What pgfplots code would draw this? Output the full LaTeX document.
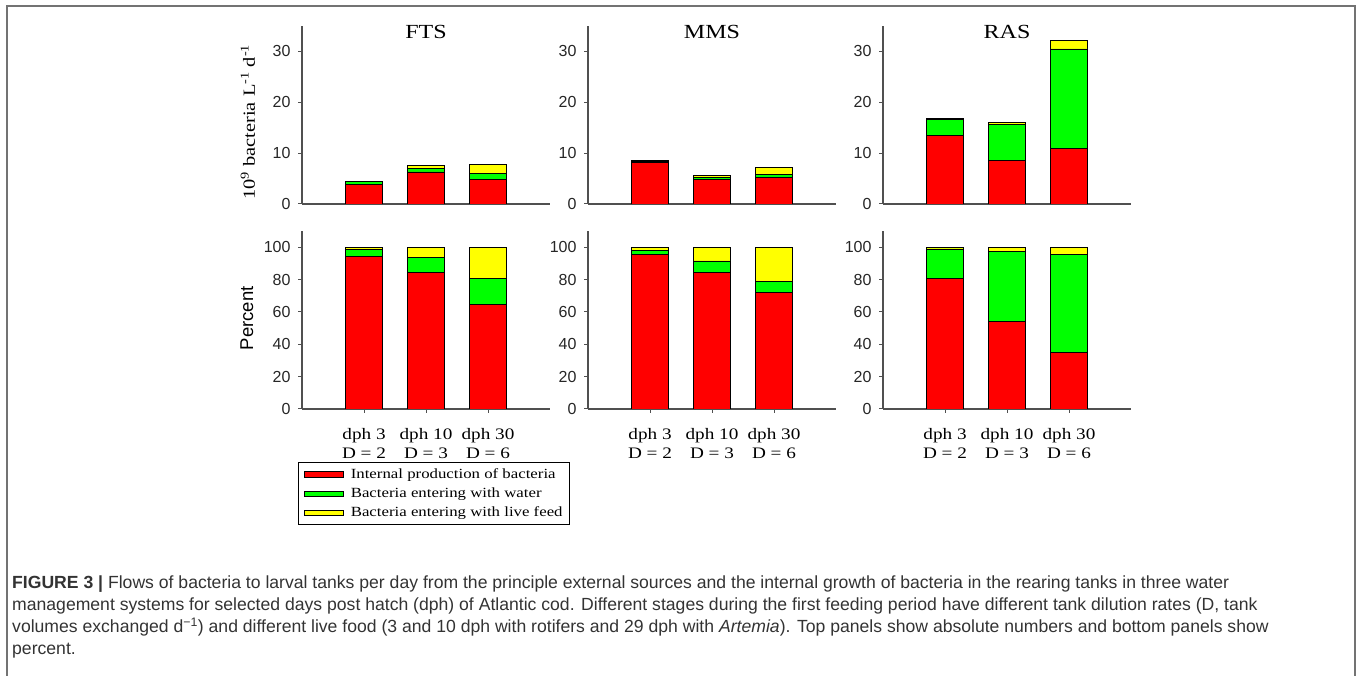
\documentclass[border=0pt]{standalone}
\usepackage{fontspec}
\usepackage{pgfplots}
\pgfplotsset{compat=1.18}
\setmainfont{Liberation Serif}
\newfontfamily\serifw[FakeStretch=1.2]{Liberation Serif}
\newfontfamily\sansf{Liberation Sans}
\newfontfamily\capf{Liberation Sans}
\definecolor{axgray}{HTML}{505050}
\definecolor{barred}{HTML}{FF0000}
\definecolor{bargreen}{HTML}{00FF00}
\definecolor{baryellow}{HTML}{FFFF00}

\pgfplotsset{
  panel/.style={
    scale only axis, width=248pt, height=178pt,
    xmin=0, xmax=4, ymin=0,
    axis x line*=bottom, axis y line*=left,
    axis line style={draw=axgray, line width=1.2pt},
    tick style={draw=axgray, line width=1pt},
    tick align=outside, major tick length=4pt,
    ybar stacked, bar width=37pt,
    /pgf/number format/assume math mode=true,
    yticklabel style={font=\sansf\fontsize{16}{16}\selectfont, text=black!85, xshift=-4pt},
    every axis plot/.append style={draw=black, line width=0.7pt},
    title style={at={(0.5,0.93)}, anchor=center, font=\serifw\fontsize{20}{20}\selectfont},
  },
  toprow/.style={panel, ymax=35, ytick={0,10,20,30}, xtick=\empty},
  botrow/.style={panel, ymax=110, ytick={0,20,...,100}, xtick={1,2,3},
    xticklabels={{dph 3\\D = 2},{dph 10\\D = 3},{dph 30\\D = 6}},
    xticklabel style={align=center, font=\serifw\fontsize{16}{19}\selectfont, yshift=-12pt}},
}

\begin{document}
\begin{tikzpicture}[x=1pt,y=1pt]
\useasboundingbox (0,0) rectangle (1358,675);
\draw[black!55, line width=1.5pt] (7,-2) -- (7,669) -- (1355,669) -- (1355,-2);

% ---- absolute flows (10^9 bacteria per litre per day) ----
\begin{axis}[toprow, at={(302pt,471pt)}, anchor=south west, title={FTS},
  ylabel={10\textsuperscript{9} bacteria L\textsuperscript{-1} d\textsuperscript{-1}},
  ylabel style={at={(axis description cs:-0.218,0.46)}, anchor=center,
    font=\serifw\fontsize{17}{17}\selectfont}]
  \addplot[fill=barred]    coordinates {(1,3.8) (2,6.3) (3,4.9)};
  \addplot[fill=bargreen]  coordinates {(1,0.6) (2,0.7) (3,1.1)};
  \addplot[fill=baryellow] coordinates {(1,0.1) (2,0.6) (3,1.7)};
\end{axis}
\begin{axis}[toprow, at={(588pt,471pt)}, anchor=south west, title={MMS}]
  \addplot[fill=barred]    coordinates {(1,8.1) (2,4.8) (3,5.2)};
  \addplot[fill=bargreen]  coordinates {(1,0.2) (2,0.4) (3,0.55)};
  \addplot[fill=baryellow] coordinates {(1,0.2) (2,0.45) (3,1.5)};
\end{axis}
\begin{axis}[toprow, at={(883pt,471pt)}, anchor=south west, title={RAS}]
  \addplot[fill=barred]    coordinates {(1,13.5) (2,8.6) (3,10.9)};
  \addplot[fill=bargreen]  coordinates {(1,3.2) (2,7.0) (3,19.6)};
  \addplot[fill=baryellow] coordinates {(1,0.2) (2,0.5) (3,1.6)};
\end{axis}

% ---- relative contributions (percent) ----
\begin{axis}[botrow, at={(302pt,266pt)}, anchor=south west,
  ylabel={Percent},
  ylabel style={at={(axis description cs:-0.222,0.51)}, anchor=center,
    font=\sansf\fontsize{18.5}{18.5}\selectfont}]
  \addplot[fill=barred]    coordinates {(1,94.3) (2,84.6) (3,64.4)};
  \addplot[fill=bargreen]  coordinates {(1,4.1) (2,8.9) (3,16.5)};
  \addplot[fill=baryellow] coordinates {(1,1.6) (2,6.5) (3,19.1)};
\end{axis}
\begin{axis}[botrow, at={(588pt,266pt)}, anchor=south west]
  \addplot[fill=barred]    coordinates {(1,95.7) (2,84.6) (3,72.0)};
  \addplot[fill=bargreen]  coordinates {(1,2.4) (2,6.9) (3,7.0)};
  \addplot[fill=baryellow] coordinates {(1,1.9) (2,8.5) (3,21.0)};
\end{axis}
\begin{axis}[botrow, at={(883pt,266pt)}, anchor=south west]
  \addplot[fill=barred]    coordinates {(1,80.6) (2,54.3) (3,35.0)};
  \addplot[fill=bargreen]  coordinates {(1,18.3) (2,43.0) (3,60.7)};
  \addplot[fill=baryellow] coordinates {(1,1.1) (2,2.7) (3,4.3)};
\end{axis}

% ---- shared legend with flat bar keys ----
\begin{axis}[at={(302pt,266pt)}, anchor=south west, scale only axis,
  width=248pt, height=178pt, hide axis, xmin=0, xmax=1, ymin=0, ymax=1,
  legend image code/.code={%
    \draw[#1,draw=black,line width=0.6pt] (0pt,-2.6pt) rectangle (39pt,2.6pt);
    \path[draw=none,fill=none] (0pt,0pt) -- (45pt,0pt);},
  legend style={at={(axis description cs:-0.016,-0.298)}, anchor=north west,
    draw=black, line width=1pt,
    font=\serifw\fontsize{14}{16}\selectfont,
    legend cell align=left, row sep=4pt, inner xsep=5pt, inner ysep=4pt}]
  \addlegendimage{fill=barred}
  \addlegendentry{Internal production of bacteria}
  \addlegendimage{fill=bargreen}
  \addlegendentry{Bacteria entering with water}
  \addlegendimage{fill=baryellow}
  \addlegendentry{Bacteria entering with live feed}
\end{axis}

% ---- caption ----
\begin{scope}[every node/.style={anchor=base west, inner sep=0pt, text=black!80,
    font=\capf\fontsize{17.6}{22}\selectfont}]
\node at (12,86) {{\bfseries FIGURE 3 |} Flows of bacteria to larval tanks per day from the principle external sources and the internal growth of bacteria in the rearing tanks in three water};
\node at (12,64) {management systems for selected days post hatch (dph) of Atlantic cod. Different stages during the first feeding period have different tank dilution rates (D, tank};
\node at (12,42) {volumes exchanged d\textsuperscript{−1}) and different live food (3 and 10 dph with rotifers and 29 dph with \textit{Artemia}). Top panels show absolute numbers and bottom panels show};
\node at (12,20) {percent.};
\end{scope}
\end{tikzpicture}
\end{document}
